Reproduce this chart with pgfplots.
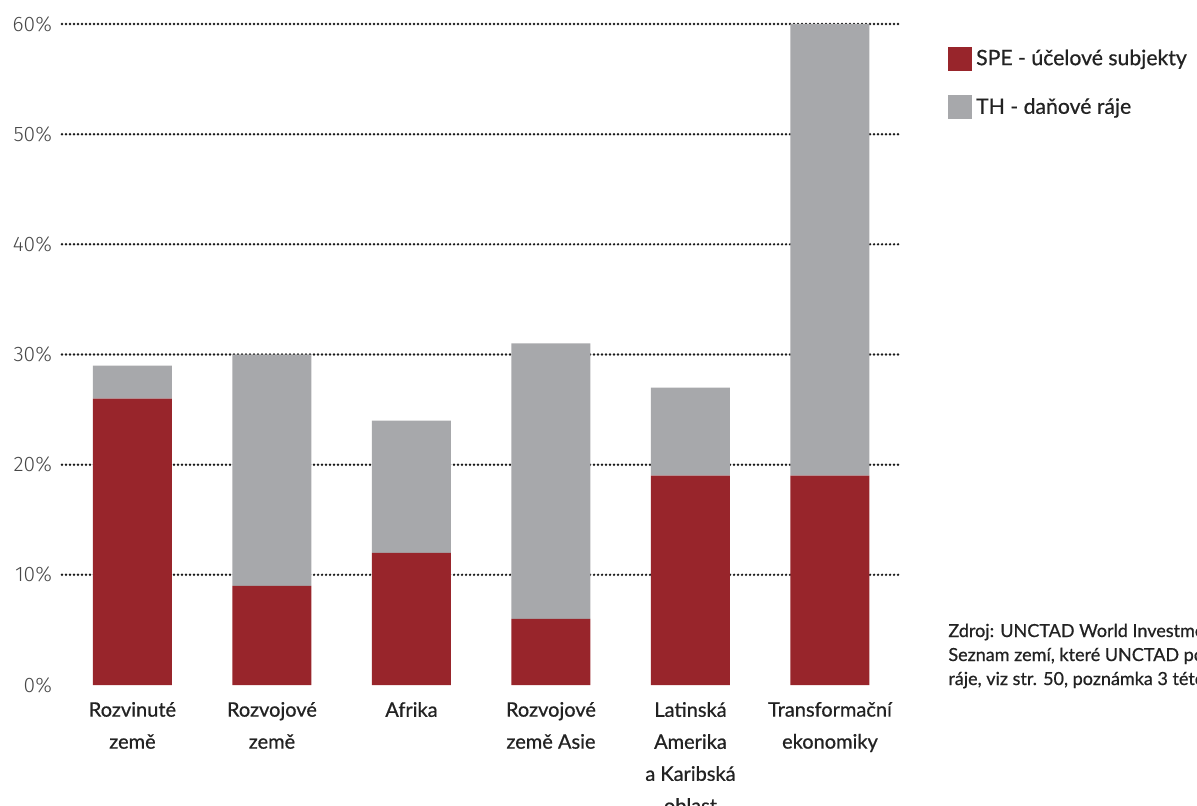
\documentclass[border=0pt]{standalone}
\usepackage{fontspec}
\usepackage{pgfplots}
\pgfplotsset{compat=1.18}
\setmainfont{Lato}[UprightFeatures={FakeBold=0.7}]
\newfontfamily\tickfont{Fira Sans Light}
\definecolor{spe}{HTML}{98252B}
\definecolor{th}{HTML}{A7A8AB}
\definecolor{gridc}{HTML}{1A1A1A}
\definecolor{txt}{HTML}{222222}
\begin{document}
\begin{tikzpicture}
\path[use as bounding box, clip] (0,0) rectangle (598.5pt,402.5pt);
\begin{axis}[
  at={(31pt,60pt)}, anchor=south west,
  scale only axis, width=419pt, height=330.5pt,
  xmin=-0.505, xmax=5.502, ymin=0, ymax=60,
  ybar stacked, bar width=39.5pt,
  axis line style={draw=none},
  major tick length=0pt,
  xtick={0,1,2,3,4,5},
  xticklabels={Rozvinuté\\země, Rozvojové\\země, Afrika, Rozvojové\\země Asie, Latinská\\Amerika\\a Karibská\\oblast, Transformační\\ekonomiky},
  xticklabel style={align=center, font={\fontsize{10}{16}\selectfont}, text=txt, yshift=-5pt},
  ytick={10,20,...,60},
  extra y ticks={0},
  extra y tick style={grid=none},
  ymajorgrids,
  grid style={gridc, line width=1.35pt, dash pattern=on 0pt off 2pt, line cap=round},
  /pgf/number format/assume math mode=true,
  yticklabel={\pgfmathprintnumber{\tick}\%},
  yticklabel style={font={\tickfont\fontsize{10.5}{12}\selectfont}, text=black!72, xshift=-1.5pt},
  legend style={at={(rel axis cs:1.057,0.968)}, anchor=north west, draw=none, fill=none, inner sep=0pt,
    font={\fontsize{10.6}{12}\selectfont}, text=txt, row sep=11pt,
    /tikz/every even column/.append style={column sep=8pt}},
  legend cell align=left,
  legend image code/.code={\fill[#1] (0pt,-6pt) rectangle (12pt,6pt);},
]
\addplot[fill=spe, draw=none] coordinates {(0,26) (1,9) (2,12) (3,6) (4,19) (5,19)};
\addplot[fill=th, draw=none] coordinates {(0,3) (1,21) (2,12) (3,25) (4,8) (5,41)};
\legend{SPE - účelové subjekty, TH - daňové ráje}
\end{axis}
\node[anchor=base west, align=left, font={\fontsize{9}{12}\selectfont}, text=txt, inner sep=0pt]
  at (474pt,60pt) {Zdroj: UNCTAD World Investment Report 2015.\\Seznam zemí, které UNCTAD považuje za daňové\\ráje, viz str. 50, poznámka 3 této publikace.};
\end{tikzpicture}
\end{document}
